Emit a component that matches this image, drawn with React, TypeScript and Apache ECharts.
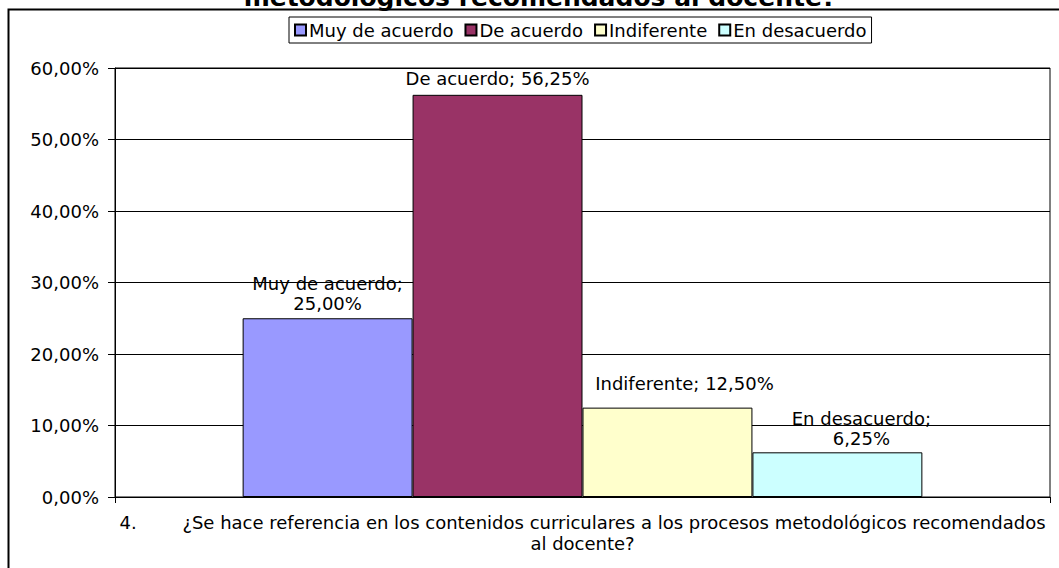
import React, { useEffect, useRef } from "react";
import * as echarts from "echarts";

const categories = [
  "4.        ¿Se hace referencia en los contenidos curriculares a los procesos metodológicos recomendados\nal docente?",
];
const seriesNames = ["Muy de acuerdo", "De acuerdo", "Indiferente", "En desacuerdo"];
const seriesValues = [[0.25], [0.5625], [0.125], [0.0625]];
const yTicks = [0, 0.1, 0.2, 0.3, 0.4, 0.5, 0.6];
const titleText = "metodológicos recomendados al docente?";

const colors = ["#9999FF", "#993366", "#FFFFCC", "#CCFFFF"];
const labelBreak = [true, false, false, true];
const labelDistance = [5, 6, 14, 4];
const labelOffset = [[0, 0], [0, 0], [17, 0], [24, 0]];

const FONT = "DejaVu Sans";
const FS = 18;
const fmt = (v: number) => (v * 100).toFixed(2).replace(".", ",") + "%";

export default function App() {
  const ref = useRef<HTMLDivElement>(null);
  useEffect(() => {
    if (!ref.current) return;
    const chart = echarts.init(ref.current, null, { renderer: "svg" });
    chart.setOption({
      animation: false,
      backgroundColor: "#fff",
      textStyle: { fontFamily: FONT, color: "#000" },
      graphic: [
        {
          type: "text",
          x: 540,
          y: 10,
          z: 10,
          style: {
            text: titleText,
            fontFamily: FONT,
            fontWeight: "bold",
            fontSize: 25,
            fill: "#000",
            textAlign: "center",
            textVerticalAlign: "bottom",
          },
        },
        {
          type: "rect",
          z: 11,
          shape: { x: 8.5, y: 9.5, width: 1100, height: 600 },
          style: { fill: "none", stroke: "#000", lineWidth: 2 },
        },
      ],
      legend: {
        left: 289,
        top: 17,
        data: seriesNames,
        itemWidth: 11,
        itemHeight: 11,
        itemGap: 11,
        padding: [4, 5],
        borderColor: "#000",
        borderWidth: 1,
        icon: "rect",
        textStyle: { fontFamily: FONT, fontSize: FS, color: "#000", padding: [0, 0, 0, -2] },
      },
      grid: {
        left: 115,
        right: 9,
        top: 68,
        bottom: 71,
        show: true,
        borderColor: "#000",
        borderWidth: 1,
        backgroundColor: "transparent",
      },
      xAxis: {
        type: "category",
        data: categories,
        axisLine: { show: true, lineStyle: { color: "#000", width: 1 } },
        axisTick: { show: true, length: 6, lineStyle: { color: "#000" } },
        axisLabel: {
          fontFamily: FONT,
          fontSize: FS,
          lineHeight: 21,
          color: "#000",
          margin: 15,
          interval: 0,
        },
      },
      yAxis: {
        type: "value",
        min: yTicks[0],
        max: yTicks[yTicks.length - 1],
        interval: 0.1,
        axisLine: { show: true, lineStyle: { color: "#000", width: 1 } },
        axisTick: { show: true, length: 7, lineStyle: { color: "#000" } },
        axisLabel: {
          fontFamily: FONT,
          fontSize: FS,
          color: "#000",
          margin: 16,
          formatter: (v: number) => fmt(v),
        },
        splitLine: { show: true, lineStyle: { color: "#000", width: 1 } },
      },
      series: seriesNames.map((name, i) => ({
        name,
        type: "bar",
        data: seriesValues[i],
        barGap: "0%",
        barCategoryGap: "27.3%",
        itemStyle: { color: colors[i], borderColor: "#000", borderWidth: 1 },
        label: {
          show: true,
          position: "top",
          distance: labelDistance[i],
          offset: labelOffset[i],
          fontFamily: FONT,
          fontSize: FS,
          lineHeight: 20,
          color: "#000",
          align: "center",
          formatter: (p: any) =>
            p.seriesName + ";" + (labelBreak[i] ? "\n" : " ") + fmt(p.value),
        },
      })),
    });
    return () => chart.dispose();
  }, []);
  return (
    <div
      ref={ref}
      style={{ position: "absolute", left: 0, top: 0, width: 1059, height: 568 }}
    />
  );
}
